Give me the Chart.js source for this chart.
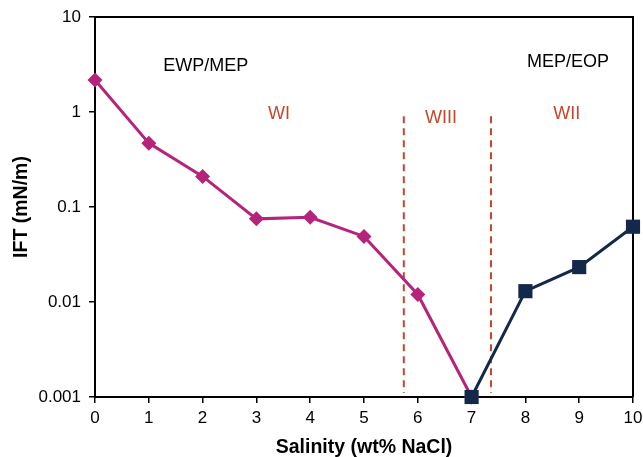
<!DOCTYPE html>
<html>
<head>
<meta charset="utf-8">
<script src="https://cdn.jsdelivr.net/npm/chart.js@4"></script>
<style>
  html, body { margin: 0; padding: 0; background: #fff; }
  #wrap { width: 643px; height: 457px; }
</style>
</head>
<body>
<div id="wrap"><canvas id="chart" width="643" height="457"></canvas></div>
<script>
// Data
const salinityWI = [0, 1, 2, 3, 4, 5, 6, 7];
const iftWI = [2.17, 0.47, 0.21, 0.075, 0.078, 0.049, 0.012, 0.001];
const salinityWII = [7, 8, 9, 10];
const iftWII = [0.001, 0.013, 0.0233, 0.062];
// phase boundaries (dashed lines)
const boundaryX = [5.74, 7.36];
const boundaryY = [0.9, 0.0011];
const yTicks = [0.001, 0.01, 0.1, 1, 10];

const FONT = 'Arial, "Liberation Sans", sans-serif';
const MAGENTA = '#b5237a';
const NAVY = '#14284a';
const RED = '#c4472c';

function toPoints(xs, ys) {
    return xs.map((x, i) => ({x: x, y: ys[i]}));
}

// Text labels in the plot (data coordinates)
const regionLabels = [
    {text: 'EWP/MEP', x: 2.06, y: 3.05, color: '#000'},
    {text: 'WI', x: 3.42, y: 0.95, color: RED},
    {text: 'WIII', x: 6.43, y: 0.865, color: RED},
    {text: 'WII', x: 8.77, y: 0.95, color: RED},
    {text: 'MEP/EOP', x: 8.79, y: 3.36, color: '#000'}
];

const labelPlugin = {
    id: 'regionText',
    afterDatasetsDraw(chart) {
        const ctx = chart.ctx;
        const xs = chart.scales.x, ys = chart.scales.y;
        ctx.save();
        ctx.font = '18px ' + FONT;
        ctx.textAlign = 'center';
        ctx.textBaseline = 'middle';
        regionLabels.forEach(l => {
            ctx.fillStyle = l.color;
            ctx.fillText(l.text, xs.getPixelForValue(l.x), ys.getPixelForValue(l.y));
        });
        ctx.restore();
    }
};

// Frame on top and right side
const framePlugin = {
    id: 'frame',
    beforeDatasetsDraw(chart) {
        const a = chart.chartArea, ctx = chart.ctx;
        ctx.save();
        ctx.strokeStyle = '#000';
        ctx.lineWidth = 2;
        ctx.beginPath();
        ctx.moveTo(a.left, a.top);
        ctx.lineTo(a.right, a.top);
        ctx.lineTo(a.right, a.bottom);
        ctx.stroke();
        ctx.restore();
    }
};

function boundary(x) {
    return {
        data: [{x: x, y: boundaryY[0]}, {x: x, y: boundaryY[1]}],
        borderColor: RED,
        borderWidth: 2,
        borderDash: [7, 5],
        pointRadius: 0,
        order: 3
    };
}

new Chart(document.getElementById('chart'), {
    type: 'line',
    data: {
        datasets: [
            {
                data: toPoints(salinityWI, iftWI),
                borderColor: MAGENTA,
                backgroundColor: MAGENTA,
                borderWidth: 3,
                pointStyle: 'rectRot',
                pointRadius: 7.5,
                pointBorderWidth: 0,
                clip: false,
                order: 2
            },
            {
                data: toPoints(salinityWII, iftWII),
                borderColor: NAVY,
                backgroundColor: NAVY,
                borderWidth: 3,
                pointStyle: 'rect',
                pointRadius: 10,
                pointBorderWidth: 0,
                clip: false,
                order: 1
            },
            boundary(boundaryX[0]),
            boundary(boundaryX[1])
        ]
    },
    options: {
        responsive: false,
        animation: false,
        layout: {padding: {top: 17, right: 10, left: 0, bottom: 0}},
        plugins: {
            legend: {display: false},
            tooltip: {enabled: false}
        },
        scales: {
            x: {
                type: 'linear',
                min: 0,
                max: 10,
                afterFit: s => { s.height = 60; s.paddingLeft = 0; s.paddingRight = 0; },
                ticks: {stepSize: 1, color: '#000', font: {family: FONT, size: 17}, padding: 5, maxRotation: 0},
                grid: {drawOnChartArea: false, drawTicks: true, tickLength: 6, color: '#000', lineWidth: 1.5},
                border: {color: '#000', width: 2},
                title: {display: true, text: 'Salinity (wt% NaCl)', color: '#000',
                        font: {family: FONT, size: 19.5, weight: 'bold', lineHeight: 1}, padding: 0}
            },
            y: {
                type: 'logarithmic',
                min: 0.001,
                max: 10,
                afterFit: s => { s.width = 95; s.paddingTop = 0; s.paddingBottom = 0; },
                afterBuildTicks: s => { s.ticks = yTicks.map(v => ({value: v})); },
                ticks: {color: '#000', font: {family: FONT, size: 17}, padding: 8,
                        callback: v => String(v)},
                grid: {drawOnChartArea: false, drawTicks: true, tickLength: 6, color: '#000', lineWidth: 1.5},
                border: {color: '#000', width: 2},
                title: {display: true, text: 'IFT (mN/m)', color: '#000',
                        font: {family: FONT, size: 19.5, weight: 'bold', lineHeight: 1}, padding: {top: 12, bottom: 0}}
            }
        }
    },
    plugins: [framePlugin, labelPlugin]
});
</script>
</body>
</html>
